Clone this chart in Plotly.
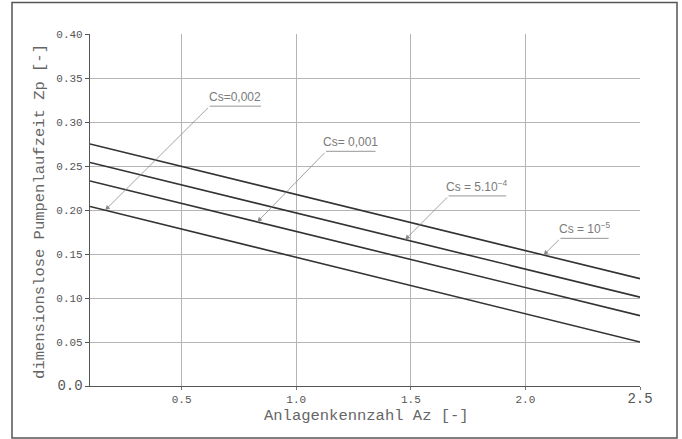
import numpy as np
import plotly.graph_objects as go

# ---- data ----
az = [0.1, 1.0, 2.5]
zp_cs_1e5 = [0.275, 0.2176, 0.122]
zp_cs_5e4 = [0.254, 0.1966, 0.101]
zp_cs_1e3 = [0.233, 0.1756, 0.080]
zp_cs_2e3 = [0.204, 0.1462, 0.050]

series_names = ["Cs = 10<sup>−5</sup>", "Cs = 5.10<sup>−4</sup>", "Cs= 0,001", "Cs=0,002"]
series_values = [zp_cs_1e5, zp_cs_5e4, zp_cs_1e3, zp_cs_2e3]

x_ticks = [0.5, 1.0, 1.5, 2.0, 2.5]
x_ticklabels = ["0.5", "1.0", "1.5", "2.0", "<span style='font-size:14px'>2.5</span>"]
y_ticks = [0.0, 0.05, 0.10, 0.15, 0.20, 0.25, 0.30, 0.35, 0.40]
y_ticklabels = ["<span style='font-size:14px'>0.0</span>", "0.05", "0.10", "0.15", "0.20",
                "0.25", "0.30", "0.35", "0.40"]

# label placement (arrow tip x on curve, underline start/end x, underline y)
tip_x = [2.079, 1.475, 0.830, 0.166]
under_x0 = [2.153, 1.665, 1.130, 0.622]
under_x1 = [2.363, 1.916, 1.346, 0.846]
under_y = [0.1678, 0.216, 0.2667, 0.318]

fig = go.Figure()
for name, vals in zip(series_names, series_values):
    fig.add_trace(go.Scatter(x=az, y=vals, mode="lines", name=name,
                             line=dict(color="#333333", width=1.6),
                             showlegend=False, hoverinfo="skip"))

annotations = []
shapes = []
for name, vals, tx, ux0, ux1, uy in zip(series_names, series_values, tip_x,
                                         under_x0, under_x1, under_y):
    ty = float(np.interp(tx, az, vals))
    # leader with arrow
    annotations.append(dict(x=tx, y=ty, ax=ux0, ay=uy, xref="x", yref="y",
                            axref="x", ayref="y", text="", showarrow=True,
                            arrowhead=2, arrowsize=1.2, arrowwidth=0.8,
                            arrowcolor="#8a8a8a", standoff=0, startstandoff=0))
    # underline
    shapes.append(dict(type="line", xref="x", yref="y", x0=ux0, x1=ux1, y0=uy, y1=uy,
                       line=dict(color="#8a8a8a", width=0.9)))
    # label text
    annotations.append(dict(x=(ux0 + ux1) / 2, y=uy, xref="x", yref="y", text=name,
                            showarrow=False, yanchor="bottom", xanchor="center",
                            yshift=0,
                            font=dict(family="Liberation Sans", size=12, color="#7a7a7a")))

# axis titles
annotations.append(dict(x=-0.09, y=0.496, xref="paper", yref="paper",
                        text="dimensionslose Pumpenlaufzeit Zp [-]", textangle=-90,
                        showarrow=False, xanchor="center", yanchor="middle",
                        font=dict(family="Liberation Mono", size=15.5, color="#666666")))
annotations.append(dict(x=0.503, y=-0.084, xref="paper", yref="paper",
                        text="Anlagenkennzahl Az [-]", showarrow=False,
                        xanchor="center", yanchor="middle",
                        font=dict(family="Liberation Mono", size=15.5, color="#666666")))

# outer frame
shapes.append(dict(type="rect", xref="paper", yref="paper", x0=-0.1418, x1=1.0673,
                   y0=-0.1477, y1=1.0895, line=dict(color="#555555", width=1.5),
                   layer="below"))

fig.update_layout(
    width=682, height=439,
    margin=dict(l=90, r=42, t=34, b=53),
    paper_bgcolor="white", plot_bgcolor="white",
    annotations=annotations, shapes=shapes,
    font=dict(family="Liberation Mono", size=11, color="#555555"),
)
fig.update_xaxes(range=[0.1, 2.5], tickvals=x_ticks, ticktext=x_ticklabels,
                 showgrid=True, gridcolor="#b5b5b5", gridwidth=0.8,
                 showline=True, linecolor="#555555", linewidth=1.2,
                 ticks="outside", ticklen=3, tickcolor="#777777",
                 zeroline=False, fixedrange=True)
fig.update_yaxes(range=[0, 0.4], tickvals=y_ticks, ticktext=y_ticklabels,
                 showgrid=True, gridcolor="#b5b5b5", gridwidth=0.8,
                 showline=True, linecolor="#555555", linewidth=1.2,
                 ticks="outside", ticklen=4, tickcolor="#555555",
                 zeroline=False, fixedrange=True)

fig.write_html("out.html", config={"displayModeBar": False},
               post_script="document.body.style.margin='0px';")
